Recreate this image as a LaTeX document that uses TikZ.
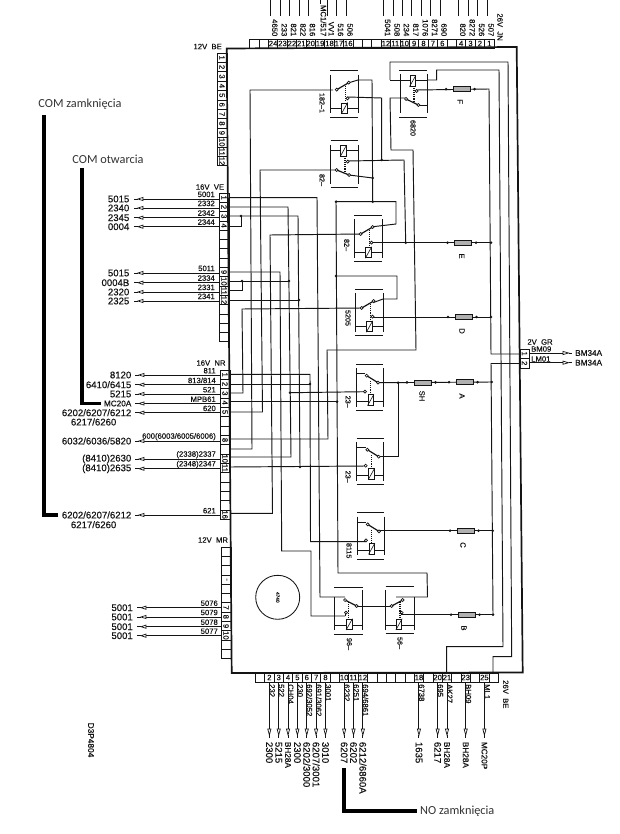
\documentclass[tikz,border=0pt]{standalone}
\usepackage{fontspec}
\setmainfont[FakeBold=0.35]{Liberation Sans}
\newfontfamily\califont{Carlito}
\definecolor{ink}{HTML}{141414}
\definecolor{fusegray}{HTML}{B0B0B0}
\newcommand{\nar}[1]{{\fontsize{8.2}{9}\selectfont #1}}
\tikzset{
  wire/.style={draw=ink,line width=0.95pt},
  frame/.style={draw=ink,line width=1.7pt},
  cell/.style={draw=ink,line width=0.65pt},
  tiny/.style={font=\fontsize{7.7}{8}\selectfont,text=ink,inner sep=0pt},
  small/.style={font=\fontsize{7.2}{8}\selectfont,text=ink,inner sep=0pt},
  outer/.style={font=\fontsize{9.6}{10}\selectfont,text=ink,inner sep=0pt},
  polish/.style={font=\califont\fontsize{12.3}{13}\selectfont,text=black!80,inner sep=0pt},
  marker/.style={draw=black,line width=3.9pt},
  fusebox/.style={draw=ink,fill=fusegray,line width=0.7pt,minimum width=17pt,minimum height=5pt,inner sep=0pt},
  coilbox/.style={draw=ink,fill=white,line width=0.8pt,minimum width=5.5pt,minimum height=10.5pt,inner sep=0pt},
  contactpt/.style={draw=ink,fill=white,line width=0.7pt,circle,minimum size=3pt,inner sep=0pt},
  joint/.style={fill=ink,circle,minimum size=2.9pt,inner sep=0pt},
  pointer/.style={draw=ink,fill=white,line width=0.7pt},
}
\newcommand{\leftarrowat}[2]{%
  \draw[wire] (#1-4,#2)--(#1,#2);
  \draw[pointer] (#1,#2)--(#1+5,#2-1.6)--(#1+5,#2+1.6)--cycle;}
\newcommand{\relaybars}[2]{%
  \draw[wire] (0,0)--(#1,0) (0,#2)--(#1,#2);
  \draw[wire] (0,4)--(0,#2-4) (#1,4)--(#1,#2-4);}
\newcommand{\coilslash}[1]{\draw[ink,line width=0.6pt] (#1.south west)--(#1.north east);}
% relay with contact pivot left, coil low
\newcommand{\relayB}[3]{%
  \begin{scope}[shift={(#1,#2)}]
    \relaybars{28}{46.7}
    \draw[wire] (0,37.5)--(28,37.5);
    \node[coilbox] (#3c) at (14.5,37.5) {};
    \coilslash{#3c}
    \draw[wire,line width=1.2pt] (6.7,19)--(18.7,12);
    \draw[draw=ink,line width=1.1pt,densely dotted] (15.7,15)--(15.7,31);
    \node[contactpt] (#3a) at (6.7,19) {};
    \node[contactpt] (#3b) at (18.7,12) {};
    \node[contactpt] (#3d) at (17.5,27.7) {};
  \end{scope}}
% relay with pivot on the upper left, coil low
\newcommand{\relayA}[3]{%
  \begin{scope}[shift={(#1,#2)}]
    \relaybars{27}{46.7}
    \draw[wire] (0,37.7)--(27,37.7) (0,9.3)--(9,9.3);
    \node[coilbox] (#3c) at (14.7,36) {};
    \coilslash{#3c}
    \draw[wire,line width=1.2pt] (10.7,11.7)--(22,18.7);
    \draw[draw=ink,line width=1.1pt,densely dotted] (14.7,17)--(14.7,30);
    \node[contactpt] (#3a) at (10.7,11.7) {};
    \node[contactpt] (#3b) at (22,18.7) {};
    \node[contactpt] (#3d) at (9,27.7) {};
  \end{scope}}
\begin{document}
\begin{tikzpicture}[x=1pt,y=-1pt]
\useasboundingbox (0,0) rectangle (620,834);
\fill[white] (0,0) rectangle (620,834);

% === wires inside the box ===
\draw[wire] (229,197.7)--(317,197.7)--(320,597)--(345,597);
\draw[wire] (229,207)--(288,207)--(291,457)--(230,457);
\draw[wire] (229,216)--(298,216)--(300,467);
\draw[wire] (229,226.7)--(241,226.7)--(241,216);
\draw[wire] (229,272)--(280,272)--(281.7,551)--(311,551)--(311,616)--(345,616);
\draw[wire] (229,281)--(289,281);
\draw[wire] (229,290.7)--(242,290.7)--(242,281);
\draw[wire] (229,300)--(299,300);
\draw[wire] (333,90)--(250,90)--(252,449)--(230,449);
\draw[wire] (335,170)--(260,170)--(262.5,412)--(230,412);
\draw[wire] (361,234)--(270,235)--(272.5,513.3)--(230,513.3);
\draw[wire] (362,308)--(242,309)--(243,393)--(230,393);
\draw[wire] (230,374.3)--(310,374.3)--(310.5,541.7)--(366,541.7);
\draw[wire] (230,384)--(310,384);
\draw[wire] (290,392.7)--(365,391.7);
\draw[wire] (230,401.7)--(337,401.7);
\draw[wire] (230,439)--(328,439)--(327,350)--(416,350)--(413,150)--(391,150)--(390,98)--(406,98);
\draw[wire] (230,467)--(366,466);
\draw[wire] (348,83)--(358,80)--(372,80)--(372.7,201.7);
\draw[wire] (336,201.7)--(396,201.7)--(396,224)--(373,226.7);
\draw[wire] (336,276)--(397,276)--(397,299)--(383,299)--(373,302.7);
\draw[wire] (336,201.7)--(338,573)--(427,573)--(427.5,597)--(401,597)--(396,597);
\draw[wire] (349,175)--(372.7,178);
\draw[wire] (347.7,97)--(381.7,98)--(381.7,160);
\draw[wire] (348,161)--(404,160)--(405.7,242.7);
\draw[wire] (390,80)--(390,62)--(508,62)--(511.7,656.7)--(493,656.7)--(493,672.7);
\draw[wire] (427,80)--(436.7,80)--(436.7,70)--(499,70)--(503,646.7)--(446.7,646.7)--(446.7,672.7);
\draw[wire] (390,80)--(427,80);
\draw[wire] (416.7,90)--(489,89)--(491,354)--(520,354);
\draw[wire] (491,363)--(520,363);
\draw[wire] (491,363)--(493,615);
\draw[wire] (418,105)--(427,105);
\draw[wire] (372,242.7)--(491,242.7);
\draw[wire] (372,317)--(491,317);
\draw[wire] (378,382.7)--(491.7,382);
\draw[wire] (398,382.7)--(398,456.7)--(379,456.7);
\draw[wire] (379,530.7)--(492.7,530.7);
\draw[wire] (401,614.7)--(493,614.7);
\draw[wire] (356.7,606)--(391.7,606);

% joints
\foreach \jn/\jx/\jy in {a/241/216,b/242/281,c/289/281,d/299/300,e/300/467,f/310/384,g/290/392.7,h/337/401.7,
  i/336/276,j/372.7/201.7,k/372.7/178,l/381.7/160,m/405.7/242.7,n/491/242.7,o/491/317,p/491.7/382,q/398/382.7,
  r/492.7/530.7,s/493/614.7,t/336/201.7}
  \node[joint] (j\jn) at (\jx,\jy) {};

% === relays ===
\relayB{330}{70.7}{ra}
\relayB{354}{215}{re}
\relayB{355}{289}{rd}
\relayA{356}{364}{ru}
\relayA{356.7}{438}{rv}
\relayA{357}{512.7}{rw}

% relay 2 (coil on top)
\draw[wire] (330.7,140.7)--(358.3,140.7) (330.7,187.7)--(358.3,187.7);
\draw[wire] (330.7,145)--(330.7,184) (358.3,145)--(358.3,184) (330.7,150.5)--(358.3,150.5);
\node[coilbox] (rbc) at (343.3,151) {};
\coilslash{rbc}
\draw[wire,line width=1.2pt] (336.7,170)--(349,175);
\draw[draw=ink,line width=1.1pt,densely dotted] (345,158)--(345,171);
\node[contactpt] (rba) at (336.7,170) {};
\node[contactpt] (rbb) at (349,175) {};
\node[contactpt] (rbd) at (347.7,161.7) {};

% relay F (coil on top)
\draw[wire] (399,70.7)--(427,70.7) (399,117.3)--(427,117.3);
\draw[wire] (400,74)--(400,113) (427,74)--(427,113);
\node[coilbox] (rfc) at (412.7,81) {};
\coilslash{rfc}
\draw[wire,line width=1.2pt] (406,99)--(418.3,105);
\draw[draw=ink,line width=1.1pt,densely dotted] (414,88)--(414,101);
\node[contactpt] (rfa) at (406,99) {};
\node[contactpt] (rfb) at (418.3,105) {};
\node[contactpt] (rfd) at (416.7,91) {};

% relay pair at the bottom
\draw[wire] (334,587.7)--(362.7,587.7) (334,634)--(362.7,634);
\draw[wire] (334.3,597)--(334.3,630) (362.7,590)--(362.7,630) (334,625)--(362.7,625);
\node[coilbox] (rxc) at (349.3,624.3) {};
\coilslash{rxc}
\draw[wire,line width=1.2pt] (345,600)--(356.7,606);
\draw[draw=ink,line width=1.1pt,densely dotted] (348.5,602)--(348.5,617);
\node[contactpt] (rxa) at (345,600) {};
\node[contactpt] (rxb) at (356.7,606) {};
\node[contactpt] (rxd) at (346,612.7) {};
\draw[wire] (385.7,586.7)--(414,586.7) (385.7,633)--(414,633);
\draw[wire] (385.7,590)--(385.7,630) (414,597)--(414,630) (385.7,625)--(414,625);
\node[coilbox] (ryc) at (399,624.3) {};
\coilslash{ryc}
\draw[wire,line width=1.2pt] (391.7,606)--(402.7,600);
\draw[draw=ink,line width=1.1pt,densely dotted] (400,602)--(400,617);
\node[contactpt] (rya) at (391.7,606) {};
\node[contactpt] (ryb) at (402.7,600) {};
\node[contactpt] (ryd) at (401.7,612.7) {};
\draw[wire] (345,616)--(345,614) (401.7,614.7)--(401.7,613);

% === fuses ===
\foreach \fn/\fx/\fy in {F/461.5/89.2,E/463/242.7,D/463.5/317,H/422.5/382.4,A/464.5/382.2,C/465.5/530.7,B/466.5/614.7}{
  \node[fusebox] (fuse\fn) at (\fx,\fy) {};
  \node[joint] (fl\fn) at (\fx-15.5,\fy) {};
  \node[joint] (fr\fn) at (\fx+13,\fy) {};
}
% fuse letters
\foreach \fn/\ft/\fx/\fy in {F/F/460/101.7,E/E/461.7/256,D/D/462/331,H/SH/422/396,A/A/462/396,C/C/463/545,B/B/464/628}
  \node[tiny,rotate=-90] (lab\fn) at (\fx,\fy) {\ft};

% relay labels
\node[small,rotate=-90] (lra) at (322,103) {182--1};
\node[small,rotate=-90] (lrb) at (322,180) {82--};
\node[small,rotate=-90] (lre) at (346.7,245) {82--};
\node[small,rotate=-90] (lrd) at (348,318) {5205};
\node[small,rotate=-90] (lru) at (348,401.7) {23--};
\node[small,rotate=-90] (lrv) at (348,476.7) {23--};
\node[small,rotate=-90] (lrw) at (349,550.7) {8115};
\node[small,rotate=-90] (lrx) at (349.3,644) {96--};
\node[small,rotate=-90] (lry) at (400,643) {56--};
\node[small,rotate=-90] (lrf) at (413,128) {6820};

% big circle
\node[draw=ink,line width=0.85pt,circle,minimum size=44pt,inner sep=0pt] (rcirc) at (277.7,597.3) {};
\node[font=\fontsize{4.8}{5}\selectfont,text=ink,rotate=-90,inner sep=0pt] (lcirc) at (277.7,597.3) {4740};

% === top connector ===
\foreach \i in {1,...,26}
  \draw[cell] ({494-9.4*\i},39) rectangle ({494-9.4*(\i-1)},48);
\foreach \i in {1,2,3,4,6,7,8,9,10,11,12,16,17,18,19,20,21,22,23,24}
  \node[tiny] (tn\i) at ({489.3-9.4*(\i-1)},43.5) {\i};
\foreach \i/\t in {24/4650,23/233,22/821,21/822,20/816,18/VV1,17/516,16/506,
  12/5041,11/508,10/234,9/817,8/1076,7/8271,6/690,4/820,3/8272,2/526,1/507}{
  \draw[wire] ({487-9.4*(\i-1)},0)--({487-9.4*(\i-1)},16);
  \node[tiny,rotate=-90,anchor=east] (tl\i) at ({491-9.4*(\i-1)},36.5) {\t};
}
\draw[wire] (320,0)--(320,4);
\node[tiny,rotate=-90,anchor=east] (tl19) at (323.5,36.5) {MC1/517};
\node[tiny,rotate=-90,anchor=east] (top26) at (500,41) {26V\ \ JN};

% === left connectors ===
\node[tiny,anchor=east] (con1) at (222,46.5) {12V\ \ BE};
\foreach \i in {1,...,12}{
  \draw[cell] (217,{53+9.4*(\i-1)}) rectangle (227,{53+9.4*\i});
  \node[tiny,rotate=-90] (bn\i) at (222,{57.7+9.4*(\i-1)}) {\i};
}
\node[tiny] (con2) at (210,187) {16V\ \ VE};
\foreach \i in {1,...,16}
  \draw[cell] (219,{193+9.3*(\i-1)}) rectangle (229,{193+9.3*\i});
\foreach \i in {1,2,3,4,9,10,11,12}
  \node[tiny,rotate=-90] (vn\i) at (224,{197.7+9.3*(\i-1)}) {\i};
\foreach \oy/\ol/\il in {199/5015/5001,208/2340/2332,217.7/2345/2342,226.7/0004/2344,
  273/5015/5011,282.7/0004B/2334,292/2320/2331,301/2325/2341}{
  \draw[wire] (143,\oy)--(219,\oy);
  \leftarrowat{138}{\oy}
  \node[outer,anchor=east] at (129.5,\oy) {\ol};
  \node[tiny,anchor=east] at (215,\oy-4.6) {\il};
}

\node[tiny] (con3) at (211,363) {16V\ \ NR};
\foreach \i in {1,...,16}
  \draw[cell] (220,{370+9.33*(\i-1)}) rectangle (230,{370+9.33*\i});
\foreach \i in {1,2,3,4,5,8,10,11,16}
  \node[tiny,rotate=-90] (nn\i) at (225,{374.7+9.33*(\i-1)}) {\i};
\foreach \oy/\ol/\il in {375/{8120}/{811},384.7/{6410/6415}/{813/814},394/{5215}/{521},403.5/{\nar{MC20A}}/{MPB61},
  412.7/{6202/6207/6212}/{620},441/{6032/6036/5820}/{600(6003/6005/6006)},459/{(8410)2630}/{(2338)2337},468.7/{(8410)2635}/{(2348)2347},515/{6202/6207/6212}/{621}}{
  \draw[wire] (144,\oy)--(220,\oy);
  \leftarrowat{139}{\oy}
  \node[outer,anchor=east] at (131.5,\oy) {\ol};
  \node[tiny,anchor=east] at (216,\oy-4.3) {\il};
}
\node[outer,anchor=east] (o1) at (116.5,422) {6217/6260};
\node[outer,anchor=east] (o2) at (116.5,524.7) {6217/6260};

\node[tiny] (con4) at (213,540) {12V\ \ MR};
\foreach \i in {1,...,12}
  \draw[cell] (221,{547+9.3*(\i-1)}) rectangle (231,{547+9.3*\i});
\foreach \i in {7,8,9,10}
  \node[tiny,rotate=-90] (mn\i) at (226,{551.7+9.3*(\i-1)}) {\i};
\node[tiny,rotate=-90] (mn4) at (226,579.6) {-};
\foreach \oy/\il in {607.7/5076,617/5079,626.7/5078,635.7/5077}{
  \draw[wire] (146,\oy)--(221,\oy);
  \leftarrowat{141}{\oy}
  \node[outer,anchor=east] at (133,\oy) {5001};
  \node[tiny,anchor=east] at (218,\oy-4.5) {\il};
}

% === right connector ===
\node[tiny] (con5) at (540,342) {2V\ \ GR};
\draw[cell] (520,349) rectangle (529,358.5);
\draw[cell] (520,358.5) rectangle (529,368);
\node[tiny,rotate=-90] (rn1) at (524.5,353.7) {1};
\node[tiny,rotate=-90] (rn2) at (524.5,363.2) {2};
\foreach \oy/\il/\iy in {353/BM09/349,362.7/LM01/359}{
  \draw[wire] (529,\oy)--(563,\oy);
  \draw[pointer] (568.5,\oy)--(563,\oy-1.6)--(563,\oy+1.6)--cycle;
  \draw[wire] (568.5,\oy)--(572,\oy);
  \node[tiny,anchor=west] at (531,\iy) {\il};
  \node[outer,anchor=west] at (575,\oy) {\nar{BM34A}};
}

% === main box ===
\draw[frame,line join=miter] (226.7,48.5)--(516.7,47)--(522.7,672.5)--(231.7,673)--cycle;

% === bottom connector ===
\foreach \i in {0,...,25}
  \draw[cell] ({255.3+9.35*\i},673) rectangle ({255.3+9.35*(\i+1)},682);
\foreach \i in {2,3,4,5,6,7,8,10,11,12,18,20,21,23,25}
  \node[tiny] (dn\i) at ({260+9.35*(\i-1)},677.5) {\i};
\foreach \i/\up/\dn in {2/232/2300,3/522/5215,4/CH04/{\nar{BH28A}},5/230/2300,6/{692/3052}/{6202/3000},7/{691/3062}/{6207/3001},
  8/3001/3010,10/6232/6207,11/6251/6202,12/{694/6861}/{6212/6860A},18/6738/1635,20/695/6217,21/AK27/{\nar{BH28A}},23/BH09/{\nar{BH28A}},25/ML1/{\nar{MC20P}}}{
  \draw[wire] ({260+9.35*(\i-1)},682)--({260+9.35*(\i-1)},729);
  \draw[pointer] ({260+9.35*(\i-1)},735)--({260+9.35*(\i-1)-1.6},729)--({260+9.35*(\i-1)+1.6},729)--cycle;
  \draw[wire] ({260+9.35*(\i-1)},735)--({260+9.35*(\i-1)},738);
  \node[tiny,rotate=-90,anchor=west] (du\i) at ({262.7+9.35*(\i-1)},684) {\up};
  \node[outer,rotate=-90,anchor=west] (dd\i) at ({260+9.35*(\i-1)},741.7) {\dn};
}
\node[tiny,rotate=-90,anchor=west] (bot26) at (505.7,680) {26V\ \ BE};
\node[font=\fontsize{8.3}{9}\selectfont,text=ink,rotate=-90,inner sep=0pt] (code) at (91,740) {D3P4804};

% === thick annotations ===
\node[polish] (comz) at (80,104) {COM zamknięcia};
\node[polish] (como) at (108,159) {COM otwarcia};
\node[polish,anchor=west] (noz) at (420,811) {NO zamknięcia};
\coordinate (cz1) at (44,115);
\coordinate (cz2) at (44,515);
\coordinate (cz3) at (58,515);
\coordinate (co1) at (82,168);
\coordinate (co2) at (82,403.5);
\coordinate (co3) at (100.7,403.5);
\coordinate (nz1) at (344.3,768);
\coordinate (nz2) at (344.3,811);
\coordinate (nz3) at (417,811);
\draw[marker] (cz1)--(cz2)--(cz3);
\draw[marker] (co1)--(co2)--(co3);
\draw[marker] (nz1)--(nz2)--(nz3);
\end{tikzpicture}
\end{document}
